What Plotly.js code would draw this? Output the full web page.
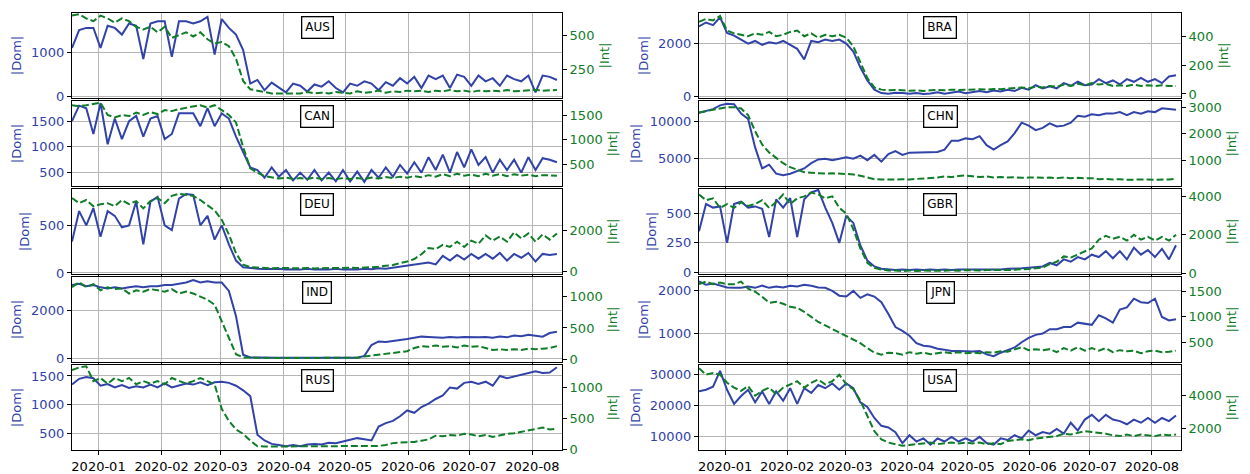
<!DOCTYPE html>
<html>
<head>
<meta charset="utf-8">
<script src="https://cdn.plot.ly/plotly-3.0.1.min.js"></script>
<style>
  html, body { margin: 0; padding: 0; background: #fff; }
  #chart { width: 1250px; height: 474px; }
</style>
</head>
<body>
<div id="chart"></div>
<script>
// ---------------- DATA (sampled every 3.5 days starting 2019-12-19) ----------------
const countries = ["AUS", "BRA", "CAN", "CHN", "DEU", "GBR", "IND", "JPN", "RUS", "USA"];

const AUS_dom = [1100,1500,1550,1550,1100,1600,1550,1400,1650,1600,850,1650,1700,1700,900,1700,1700,1650,1700,1800,950,1750,1550,1400,1050,
  300,380,150,320,200,100,300,250,120,280,230,350,200,100,300,250,350,300,150,330,250,420,300,450,200,480,400,480,200,500,450,250,480,350,420,250,480,400,350,480,100,480,450,380];
const AUS_int = [640,650,620,600,640,620,590,620,600,560,540,560,520,560,480,500,520,490,520,470,440,450,420,330,170,110,100,90,80,80,
  80,85,80,90,80,85,80,90,85,80,95,85,90,100,85,95,90,100,95,100,90,100,95,105,95,100,90,100,95,100,95,105,95,100,100,105,100,100,105];

const BRA_dom = [2650,2800,2700,3000,2400,2300,2150,2000,2100,1950,2050,2000,2100,1950,1800,1400,2100,2050,2150,2100,2150,2000,1700,1100,600,
  250,120,100,130,120,100,120,90,110,150,100,130,180,120,170,200,150,220,180,250,200,320,250,420,300,380,300,500,400,560,420,450,650,500,600,450,650,550,700,550,650,500,750,800];
const BRA_int = [500,520,510,540,440,420,410,400,420,410,430,400,410,430,440,400,420,390,410,400,410,390,330,220,110,
  45,30,25,28,25,22,25,20,25,28,25,30,28,30,28,32,30,35,33,38,40,45,40,50,45,55,50,65,55,70,60,75,65,70,55,60,55,65,55,60,55,60,55,55];

const CAN_dom = [1500,1800,1750,1250,1850,1050,1550,1150,1500,1600,1200,1550,1600,1150,1250,1650,1650,1650,1400,1750,1400,1650,1550,1200,900,
  600,550,400,600,420,550,350,500,360,550,350,500,330,550,330,520,320,550,400,600,420,650,480,700,500,800,550,850,500,900,600,950,650,800,500,750,550,750,500,800,550,780,750,700];
const CAN_int = [1700,1680,1700,1720,1750,1500,1450,1500,1480,1550,1500,1560,1520,1600,1580,1620,1650,1680,1700,1650,1700,1600,1500,1350,850,420,
  330,260,230,210,230,200,220,200,230,200,220,200,220,200,220,200,230,210,240,220,250,230,260,240,280,250,300,260,310,270,290,260,310,270,300,260,300,270,290,260,280,280,270];

const CHN_dom = [11100,11400,11600,12100,12300,12250,11000,10300,6500,3700,4200,3000,2800,3000,3300,3700,4400,4900,5000,4800,5000,5200,5000,5400,4800,
  5500,4600,5600,6000,5500,5800,5800,5900,5900,5900,6200,7400,7400,7700,7600,8000,6800,6200,6800,7300,8400,9800,9400,8800,9100,9700,9300,9400,9800,10700,10600,10900,10800,11000,11000,11200,10800,11200,11000,11300,11200,11700,11600,11500];
const CHN_int = [2800,2850,2900,2950,3000,3000,2950,2700,2100,1600,1300,1100,900,750,650,560,540,520,510,520,500,490,480,430,360,
  300,290,280,290,300,290,310,320,340,360,400,380,420,440,410,380,400,360,380,360,370,350,360,370,350,360,340,360,340,350,330,340,300,310,290,300,280,290,280,290,280,280,290,310];

const DEU_dom = [330,650,500,680,380,650,600,480,500,750,300,750,800,500,450,780,830,820,500,600,350,500,300,130,60,
  50,45,42,40,45,35,40,35,45,35,40,35,45,35,40,35,45,40,50,45,55,70,80,90,100,110,90,180,130,190,140,200,150,200,150,210,130,200,160,210,120,200,190,200];
const DEU_int = [3550,3300,3450,3150,3250,3300,3150,3450,3250,3400,3050,3400,3550,3300,3650,3750,3700,3650,3450,3200,2950,2500,1800,900,350,
  230,200,180,170,190,170,180,170,190,170,180,175,190,175,200,185,210,200,250,300,330,420,500,620,850,1150,1100,1300,1200,1450,1200,1500,1350,1750,1500,1700,1450,1900,1600,1850,1450,1800,1550,1850];

const GBR_dom = [350,580,550,560,250,580,600,550,560,540,300,620,550,630,300,620,680,700,550,420,250,480,420,230,100,50,30,
  25,20,25,20,25,20,25,20,25,20,25,25,25,20,25,22,25,30,30,35,40,45,50,
  80,60,110,90,130,110,150,130,180,120,180,110,210,150,190,130,200,110,230];
const GBR_int = [4100,3800,3900,3400,3600,3400,3700,3500,3600,3800,3400,3700,4100,3600,3900,4000,4200,4100,3900,4000,3400,3100,2300,1300,550,
  280,200,150,150,120,150,120,150,130,150,130,160,140,170,150,150,170,160,180,170,190,200,230,260,300,480,600,880,820,980,1150,1300,1750,1950,1800,1900,1700,2000,1750,1900,1700,1900,1700,2000];

const IND_dom = [3050,3100,3000,3050,2950,2900,2950,2900,2950,3000,2950,3000,3000,3050,3050,3100,3150,3250,3150,3200,3150,3150,2800,1750,150,
  30,20,20,20,20,20,20,20,20,20,20,20,20,20,20,20,
  100,550,700,680,720,750,800,850,900,880,860,850,880,860,880,860,870,880,850,900,870,950,920,980,950,900,1050,1100];
const IND_int = [1150,1230,1150,1200,1100,1150,1120,1130,1050,1100,1080,1120,1100,1080,1120,1050,1080,1050,1000,950,870,600,320,80,30,
  25,20,20,20,20,20,20,20,20,20,20,20,20,20,20,25,
  45,60,70,80,95,110,130,180,210,200,220,200,210,190,220,200,210,180,150,160,150,160,150,170,160,170,180,210];

const JPN_dom = [2200,2120,2150,2100,2060,2050,2050,2080,2050,2100,2050,2080,2060,2100,2080,2120,2100,2060,2050,1980,1870,1850,1980,1820,1900,
  1850,1720,1450,1150,1060,950,780,720,700,650,630,600,600,590,590,600,520,480,560,620,680,800,900,970,1000,1100,1100,1150,1150,1250,1230,1200,1420,1350,1250,1550,1600,1800,1720,1700,1800,1380,1300,1330];
const JPN_int = [1650,1700,1650,1680,1650,1650,1700,1560,1500,1400,1280,1300,1260,1200,1180,1100,1000,900,830,760,700,620,560,480,380,
  290,250,290,280,250,300,270,290,260,280,300,280,300,280,290,280,300,290,320,310,350,400,340,360,340,360,300,380,330,400,330,380,330,380,300,340,320,330,280,320,330,300,310,330];

const RUS_dom = [1350,1450,1480,1460,1330,1360,1300,1340,1290,1320,1300,1350,1300,1370,1300,1340,1370,1350,1390,1340,1390,
  1400,1380,1330,1250,1150,480,380,320,300,280,300,280,310,320,310,340,330,360,400,420,400,380,620,680,720,800,900,860,960,1020,1100,1160,1300,1280,1380,1400,1360,1400,1330,1500,1460,1490,1520,1560,1580,1550,1560,1650];
const RUS_int = [1280,1320,1340,1100,1150,1060,1150,1100,1150,1050,1100,1060,1100,1050,1150,1100,1060,1100,1150,1100,1050,
  650,460,320,250,140,50,45,45,45,45,45,45,45,45,45,45,45,48,48,50,50,50,55,70,100,110,110,120,140,160,220,210,230,220,250,240,210,230,200,230,250,260,280,300,330,350,320,330];

const USA_dom = [24500,25000,26000,31000,25000,20500,23000,25000,21000,24500,20500,24500,21500,25500,20500,25500,24000,26500,25500,27000,25000,27000,25500,21000,19500,
  16000,13500,13000,11500,8000,10500,8500,9500,7500,9500,8500,10000,8500,9500,8500,10000,8000,7500,9500,9000,10500,9500,12000,10500,11500,11000,12500,11000,14500,12000,15500,17000,15000,17000,15500,15000,14000,15500,14500,16000,14500,16000,15000,16800];
const USA_int = [5700,5300,5400,5300,4800,4500,4300,4600,4000,4300,4500,4100,4500,4700,4900,4500,4800,5000,4700,4900,5300,4700,4400,3700,2700,
  1800,1300,1100,1000,900,950,1000,1050,1100,1000,1050,1100,1050,1100,1050,1100,1000,1050,1000,1200,1250,1300,1250,1350,1400,1450,1500,1650,1600,1700,1800,1750,1700,1650,1550,1500,1600,1500,1600,1550,1500,1600,1550,1600];

const domSeries = [AUS_dom, BRA_dom, CAN_dom, CHN_dom, DEU_dom, GBR_dom, IND_dom, JPN_dom, RUS_dom, USA_dom];
const intSeries = [AUS_int, BRA_int, CAN_int, CHN_int, DEU_int, GBR_int, IND_int, JPN_int, RUS_int, USA_int];

// dates: start 2019-12-19, every 3.5 days
const START_MS = Date.UTC(2019, 11, 19);
const STEP_MS = 3.5 * 86400000;
const dates = AUS_dom.map((_, i) =>
  new Date(START_MS + i * STEP_MS).toISOString().slice(0, 16).replace('T', ' '));

// ---------------- STYLE / LAYOUT ----------------
const W = 1250, H = 474;
const BLUE = '#3142a8', GREEN = '#0f7d28', GRID = '#b5b5b5';
const FONT = 'DejaVu Sans, sans-serif';
const colPx = [[72, 562], [699, 1181]];
const ROW_TOP = 13, ROW_H = 85, ROW_STEP = 88;
const xRange = ['2019-12-19 00:00', '2020-08-15 12:00'];

const domRanges = [[-25, 1885], [-65, 3160], [240, 1890], [1360, 12680], [-11, 882],
                   [-14, 708], [-155, 3380], [346, 2299], [214, 1690], [5800, 32900]];
const intRanges = [[47, 659], [-28, 561], [60, 1785], [45, 3230], [-100, 3980],
                   [-35, 4383], [-43, 1313], [105, 1792], [-11, 1360], [640, 5900]];
const domDticks = [1000, 2000, 500, 5000, 500, 250, 2000, 1000, 500, 10000];
const intDticks = [250, 200, 500, 1000, 2000, 2000, 500, 500, 500, 2000];

const traces = [];
const layout = {
  width: W, height: H, autosize: false,
  margin: {l: 0, r: 0, t: 0, b: 0},
  paper_bgcolor: '#fff', plot_bgcolor: '#fff',
  showlegend: false,
  font: {family: FONT, size: 13, color: '#000'},
  annotations: []
};

countries.forEach((name, k) => {
  const col = k % 2, row = Math.floor(k / 2);
  const xid = k === 0 ? 'x' : 'x' + (k + 1);
  const xkey = k === 0 ? 'xaxis' : 'xaxis' + (k + 1);
  const ypNum = 2 * k + 1, ysNum = 2 * k + 2;
  const ypid = ypNum === 1 ? 'y' : 'y' + ypNum;
  const ypkey = ypNum === 1 ? 'yaxis' : 'yaxis' + ypNum;
  const ysid = 'y' + ysNum;
  const yskey = 'yaxis' + ysNum;

  const top = ROW_TOP + ROW_STEP * row;
  const bot = top + ROW_H;
  const yDom = [1 - bot / H, 1 - top / H];
  const xDom = [colPx[col][0] / W, colPx[col][1] / W];

  traces.push({
    x: dates, y: domSeries[k], xaxis: xid, yaxis: ypid,
    type: 'scatter', mode: 'lines', name: name + ' Dom',
    line: {color: BLUE, width: 2}
  });
  traces.push({
    x: dates, y: intSeries[k], xaxis: xid, yaxis: ysid,
    type: 'scatter', mode: 'lines', name: name + ' Int',
    line: {color: GREEN, width: 2, dash: '7px,3px'}
  });

  layout[xkey] = {
    domain: xDom, anchor: ypid, type: 'date', range: xRange,
    tick0: '2020-01-01', dtick: 'M1', tickformat: '%Y-%m',
    showgrid: true, gridcolor: GRID, gridwidth: 1,
    ticks: 'outside', ticklen: 4, tickwidth: 1, tickcolor: '#000',
    showline: true, mirror: true, linecolor: '#000', linewidth: 1.2,
    showticklabels: row === 4, tickfont: {family: FONT, size: 13, color: '#000'},
    zeroline: false
  };
  layout[ypkey] = {
    domain: yDom, anchor: xid, range: domRanges[k], dtick: domDticks[k], tick0: 0,
    tickformat: 'd',
    showgrid: true, gridcolor: GRID, gridwidth: 1,
    ticks: 'outside', ticklen: 4, tickwidth: 1, tickcolor: '#000',
    showline: true, mirror: true, linecolor: '#000', linewidth: 1.2,
    tickfont: {family: FONT, size: 13, color: BLUE},
    title: {text: '|Dom|', font: {family: FONT, size: 13, color: BLUE}, standoff: 6},
    zeroline: false
  };
  layout[yskey] = {
    overlaying: ypid, side: 'right', anchor: xid,
    range: intRanges[k], dtick: intDticks[k], tick0: 0,
    tickformat: 'd',
    showgrid: false, showline: false, zeroline: false,
    ticks: 'outside', ticklen: 4, tickwidth: 1, tickcolor: '#000',
    tickfont: {family: FONT, size: 13, color: GREEN},
    title: {text: '|Int|', font: {family: FONT, size: 13, color: GREEN}, standoff: 6}
  };

  layout.annotations.push({
    xref: 'paper', yref: 'paper',
    x: (xDom[0] + xDom[1]) / 2, y: 1 - (top + 15) / H,
    xanchor: 'center', yanchor: 'middle',
    text: name, showarrow: false,
    font: {family: FONT, size: 12, color: '#000'},
    bgcolor: '#fff', bordercolor: '#000', borderwidth: 1.3, borderpad: 3
  });
});

Plotly.newPlot('chart', traces, layout, {staticPlot: true, displayModeBar: false});
</script>
</body>
</html>
